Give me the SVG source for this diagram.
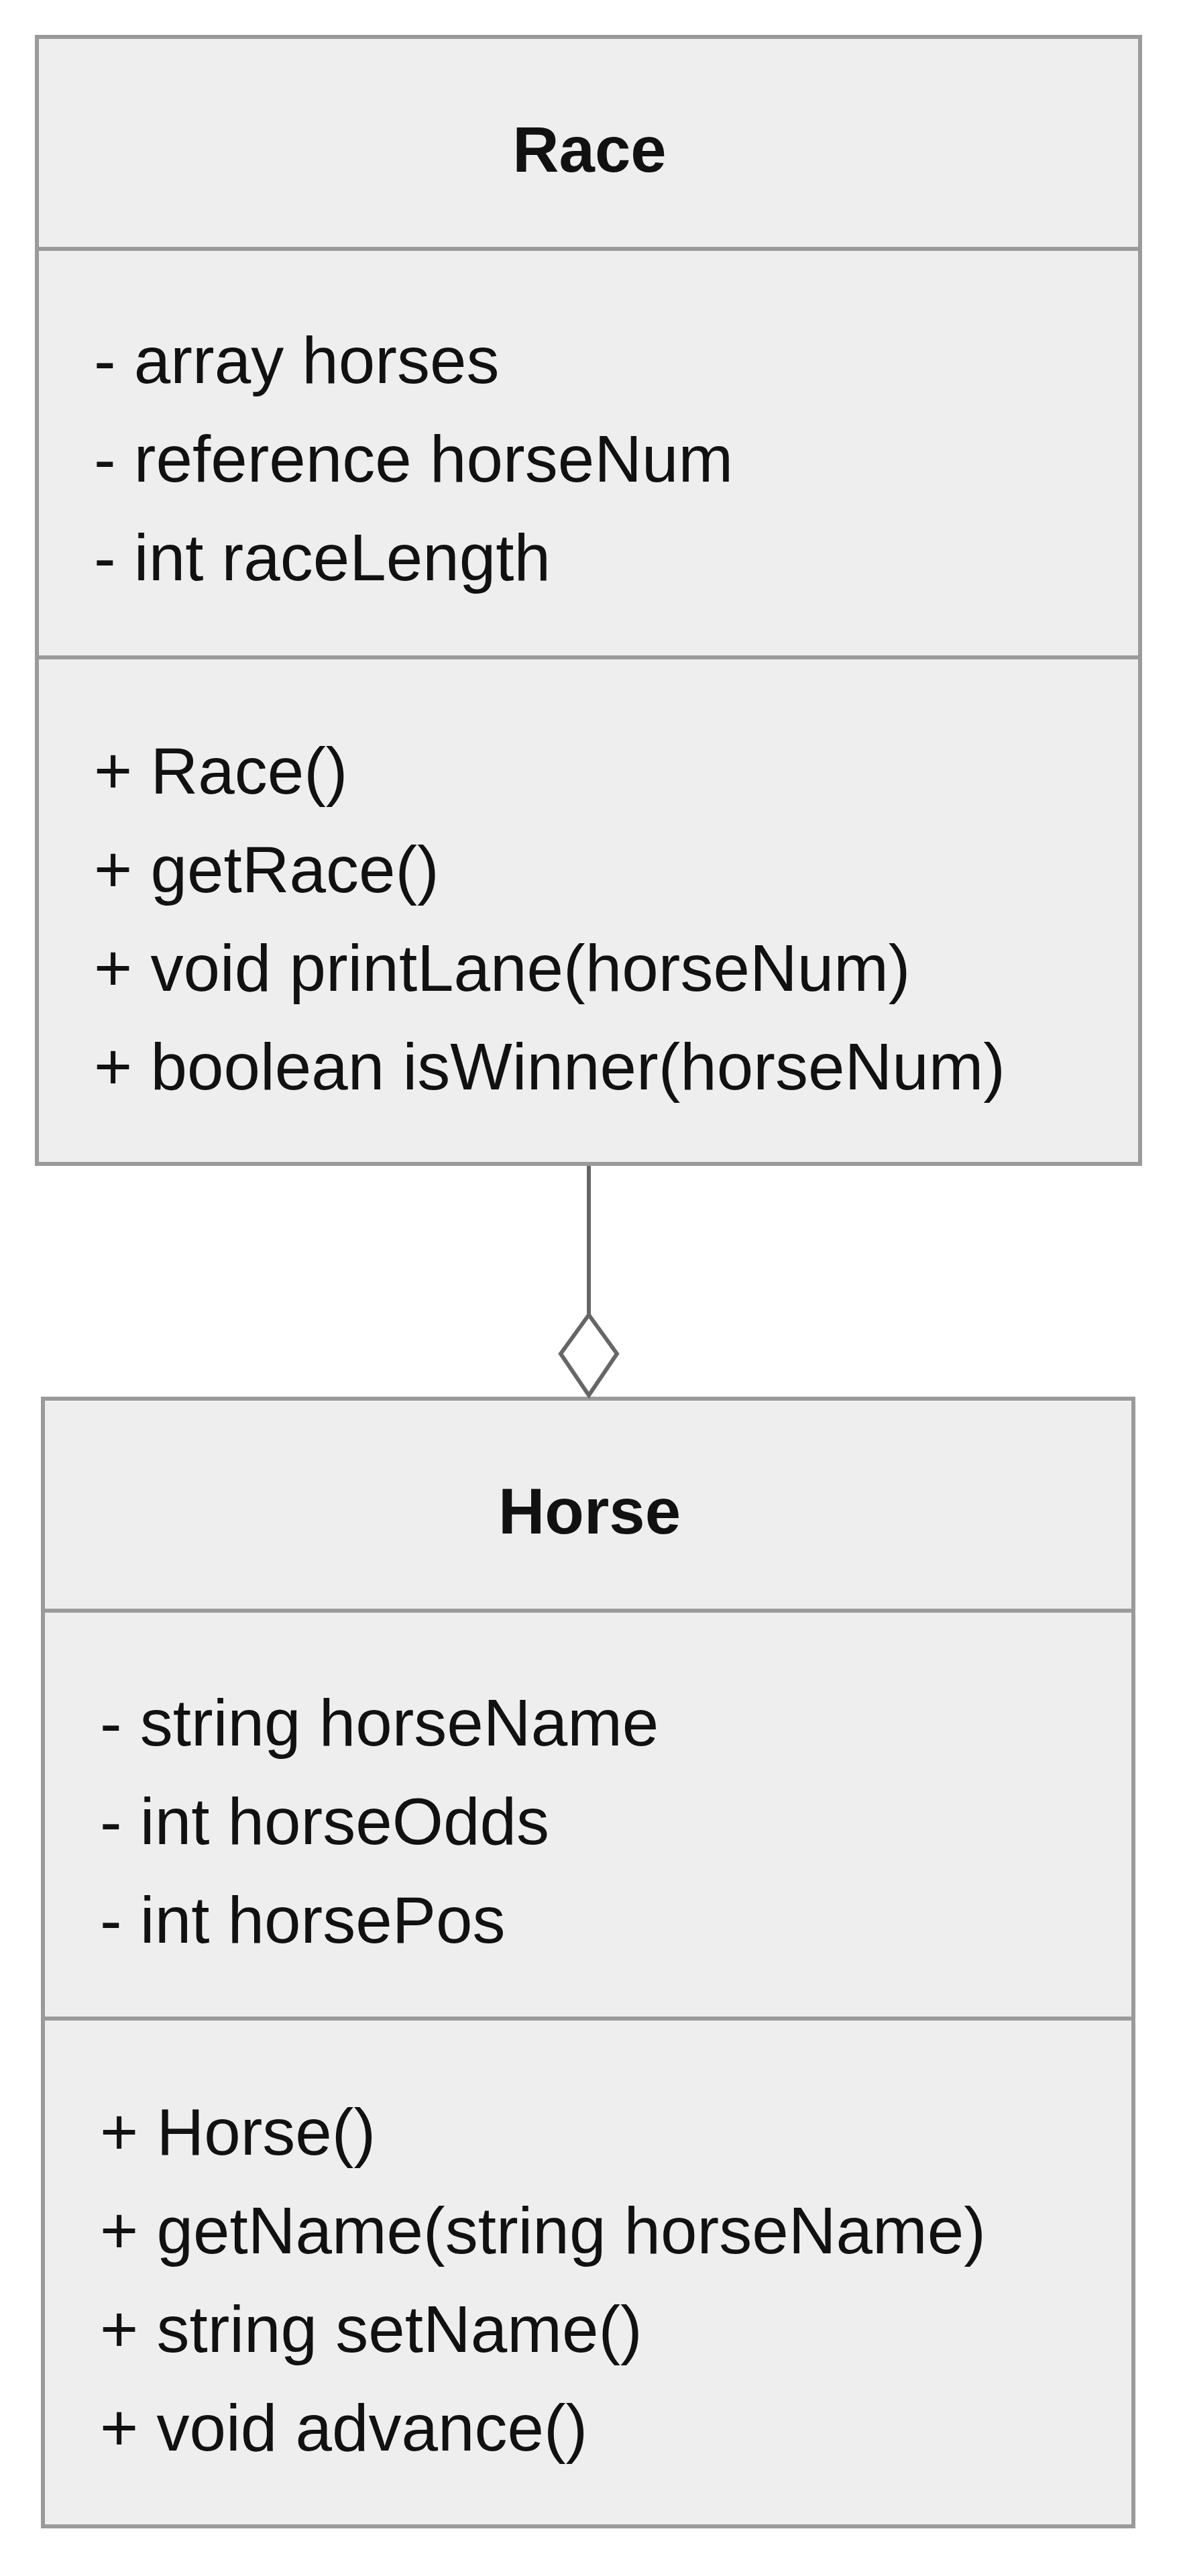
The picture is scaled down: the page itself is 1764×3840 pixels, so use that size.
<svg xmlns="http://www.w3.org/2000/svg" width="1764" height="3840" viewBox="0 0 1764 3840">
<style>
.box{fill:#eeeeee;stroke:#9a9a9a;stroke-width:6}
.div{stroke:#9a9a9a;stroke-width:6}
.t{font-family:"Liberation Sans",Arial,sans-serif;font-size:98px;fill:#111111}
.title{font-weight:bold;text-anchor:middle;font-size:96px}
.conn{stroke:#666666;stroke-width:6;fill:none}
.dia{stroke:#666666;stroke-width:6;fill:#ffffff}
</style>
<rect width="1764" height="3840" fill="#ffffff"/>
<g id="Race">
<rect class="box" x="55" y="55" width="1645" height="1680"/>
<line class="div" x1="55" y1="371" x2="1700" y2="371"/>
<line class="div" x1="55" y1="980" x2="1700" y2="980"/>
<text class="t title" x="879" y="256">Race</text>
<text class="t" x="140" y="571">- array horses</text>
<text class="t" x="140" y="718">- reference horseNum</text>
<text class="t" x="140" y="865">- int raceLength</text>
<text class="t" x="140" y="1183">+ Race()</text>
<text class="t" x="140" y="1330">+ getRace()</text>
<text class="t" x="140" y="1477">+ void printLane(horseNum)</text>
<text class="t" x="140" y="1624">+ boolean isWinner(horseNum)</text>
</g>
<g id="Horse">
<rect class="box" x="64" y="2085" width="1626" height="1681"/>
<line class="div" x1="64" y1="2401" x2="1690" y2="2401"/>
<line class="div" x1="64" y1="3009" x2="1690" y2="3009"/>
<text class="t title" x="879" y="2286">Horse</text>
<text class="t" x="149" y="2602">- string horseName</text>
<text class="t" x="149" y="2749">- int horseOdds</text>
<text class="t" x="149" y="2896">- int horsePos</text>
<text class="t" x="149" y="3212">+ Horse()</text>
<text class="t" x="149" y="3359">+ getName(string horseName)</text>
<text class="t" x="149" y="3506">+ string setName()</text>
<text class="t" x="149" y="3653">+ void advance()</text>
</g>
<g id="connectors">
<line class="conn" x1="878" y1="1738" x2="878" y2="1960"/>
<path class="dia" d="M878,1960 L836,2018 L878,2080 L920,2018 Z"/>
</g>
</svg>
